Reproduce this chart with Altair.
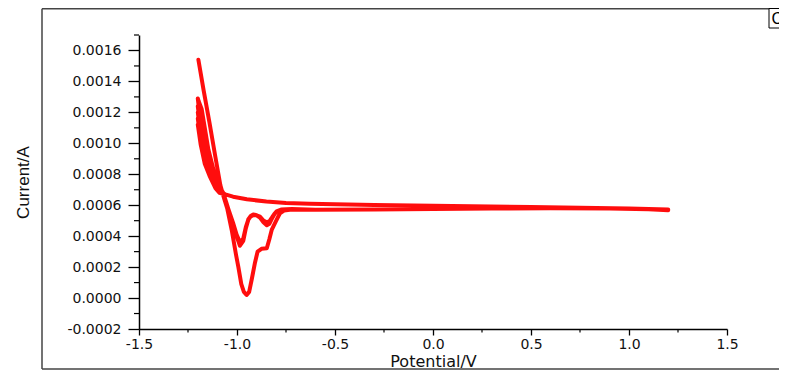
import altair as alt
import pandas as pd

# ---------------- data ----------------
# cycle 1: starts at -1.2 V with a high current, straight drop, large dip
c1_drop_x = [-1.197, -1.17, -1.14, -1.11, -1.085, -1.065, -1.05]
c1_drop_y = [0.00154, 0.00134, 0.00113, 0.00091, 0.00073, 0.00064, 0.00058]
big_dip_x = [-1.027, -1.005, -0.993, -0.978, -0.965, -0.951, -0.938, -0.925,
             -0.908, -0.895, -0.875, -0.848, -0.835, -0.823, -0.80, -0.781, -0.76, -0.72]
big_dip_y = [0.00044, 0.00028, 0.00020, 0.00009, 0.00004, 0.00002, 0.00004, 0.00012,
             0.00023, 0.00030, 0.000318, 0.000322, 0.00038, 0.00044, 0.00050, 0.000548, 0.000565, 0.000572]

# flat sweep towards +1.2 V (lower line)
lower_x = [-0.6, -0.3, 0.0, 0.3, 0.6, 0.9, 1.1, 1.2]
lower_y = [0.00057, 0.000572, 0.000576, 0.000579, 0.00058, 0.000578, 0.000574, 0.000568]

# flat sweep back towards -1.2 V (upper line)
upper_x = [1.2, 1.0, 0.5, 0.0, -0.3, -0.5, -0.63, -0.75, -0.85, -0.95, -1.02, -1.06]
upper_y = [0.000572, 0.000578, 0.000588, 0.000597, 0.000602, 0.000606, 0.000609,
           0.000615, 0.000624, 0.000638, 0.000655, 0.00067]

# rising current near -1.2 V (cycles 2-6)
rise_x = [-1.09, -1.11, -1.14, -1.165, -1.185, -1.2]
rise_y = [
    [0.00069, 0.00073, 0.00084, 0.00096, 0.00112, 0.00129],
    [0.00069, 0.00072, 0.00082, 0.00093, 0.00108, 0.00124],
    [0.00069, 0.00072, 0.00081, 0.00091, 0.00105, 0.00120],
    [0.00068, 0.00071, 0.00080, 0.00089, 0.00102, 0.00116],
    [0.00068, 0.00071, 0.00079, 0.00087, 0.00099, 0.00112],
]
# falling current after the -1.2 V turn (cycles 2-6)
fall_x = [-1.195, -1.18, -1.146, -1.104, -1.07]
fall_y = [
    [0.00127, 0.00122, 0.00096, 0.00075, 0.00068],
    [0.00122, 0.00117, 0.00093, 0.00074, 0.00068],
    [0.00118, 0.00113, 0.00091, 0.00073, 0.00068],
    [0.00114, 0.00110, 0.00089, 0.00072, 0.00067],
    [0.00110, 0.00106, 0.00087, 0.00071, 0.00067],
]
# small double dip (cycles 2-6)
small_dip_x = [-1.044, -1.02, -1.002, -0.985, -0.968, -0.955, -0.942, -0.93, -0.917,
               -0.90, -0.883, -0.865, -0.848, -0.835, -0.823, -0.81, -0.798, -0.775, -0.72]
small_dip_y = [
    [0.000575, 0.00048, 0.00040, 0.000338, 0.00037, 0.00045, 0.00051, 0.00053, 0.00054,
     0.000535, 0.00052, 0.00049, 0.00047, 0.00048, 0.00051, 0.00054, 0.00056, 0.000572, 0.000575],
    [0.000575, 0.00048, 0.00040, 0.000344, 0.000372, 0.00045, 0.000508, 0.00053, 0.000538,
     0.000535, 0.000522, 0.000492, 0.000475, 0.000484, 0.000512, 0.00054, 0.00056, 0.000572, 0.000575],
    [0.000575, 0.000482, 0.000403, 0.00035, 0.000376, 0.000452, 0.000507, 0.000528, 0.000537,
     0.000535, 0.000524, 0.000495, 0.00048, 0.000488, 0.000514, 0.000541, 0.00056, 0.000572, 0.000575],
    [0.000575, 0.000484, 0.000406, 0.000355, 0.00038, 0.000455, 0.000507, 0.000528, 0.000536,
     0.000535, 0.000525, 0.000498, 0.000485, 0.000492, 0.000516, 0.000542, 0.00056, 0.000572, 0.000575],
    [0.000575, 0.000486, 0.00041, 0.00036, 0.000385, 0.000458, 0.000508, 0.000528, 0.000536,
     0.000535, 0.000526, 0.0005, 0.00049, 0.000496, 0.000518, 0.000543, 0.00056, 0.000572, 0.000575],
]

x_major = [-1.5, -1.0, -0.5, 0.0, 0.5, 1.0, 1.5]
x_minor = [-1.25, -0.75, -0.25, 0.25, 0.75, 1.25]
y_major = [-0.0002, 0.0, 0.0002, 0.0004, 0.0006, 0.0008, 0.0010, 0.0012, 0.0014, 0.0016]
y_minor = [-0.0001, 0.0001, 0.0003, 0.0005, 0.0007, 0.0009, 0.0011, 0.0013, 0.0015, 0.0017]

# ---------------- build the continuous trace ----------------
px, py = [], []
def add(xs, ys):
    px.extend(xs)
    py.extend(ys)

add(c1_drop_x, c1_drop_y)
add(big_dip_x, big_dip_y)
add(lower_x, lower_y)
for k in range(5):
    add(upper_x, upper_y)
    add(rise_x, rise_y[k])
    add(fall_x, fall_y[k])
    add(small_dip_x, small_dip_y[k])
    add(lower_x, lower_y)

trace = pd.DataFrame({"potential": px, "current": py, "step": list(range(len(px)))})

W, H = 588, 294
FONT = "DejaVu Sans"

x_scale = alt.Scale(domain=[-1.5, 1.5], nice=False, zero=False)
y_scale = alt.Scale(domain=[-0.0002, 0.0017], nice=False, zero=False)

x_enc = alt.X(
    "potential:Q", scale=x_scale,
    axis=alt.Axis(
        title="Potential/V", values=x_major, grid=False, labelFlush=False, labelOverlap=False,
        labelExpr="replace(format(datum.value, '.1f'), '\u2212', '-')",
        labelFont=FONT, labelFontSize=14, labelColor="#111", labelPadding=2,
        tickSize=6, tickColor="black", tickWidth=1.3,
        domainColor="black", domainWidth=1.5,
        titleFont=FONT, titleFontSize=16, titleFontWeight="normal", titleColor="#111",
        titleBaseline="alphabetic", titleY=37.5, titleX=W / 2, titleAlign="center",
    ),
)
y_enc = alt.Y(
    "current:Q", scale=y_scale,
    axis=alt.Axis(
        title="Current/A", values=y_major, grid=False, labelFlush=False, labelOverlap=False,
        labelExpr="replace(format(datum.value, '.4f'), '\u2212', '-')",
        labelFont=FONT, labelFontSize=14, labelColor="#111", labelPadding=7,
        tickSize=11, tickColor="black", tickWidth=1.3,
        domainColor="black", domainWidth=1.5,
        titleFont="Liberation Sans", titleFontSize=17, titleFontWeight="normal", titleColor="#111",
        titleAngle=270, titleBaseline="alphabetic", titleAlign="center",
        titleX=-111, titleY=H / 2,
    ),
)

line = alt.Chart(trace).mark_line(
    color="#ff0000", strokeWidth=4, strokeCap="round", strokeJoin="round", opacity=0.95
).encode(x=x_enc, y=y_enc, order=alt.Order("step:Q"))

minor_y = alt.Chart(pd.DataFrame({"current": y_minor})).mark_rule(
    color="black", strokeWidth=1.2
).encode(y=y_enc, x=alt.value(-5), x2=alt.value(0))

minor_x = alt.Chart(pd.DataFrame({"potential": x_minor})).mark_rule(
    color="black", strokeWidth=1.2
).encode(x=x_enc, y=alt.value(H), y2=alt.value(H + 3.5))

one = alt.Data(values=[{"k": 1}])
frame_top = alt.Chart(one).mark_rule(color="#444", strokeWidth=1.5).encode(
    x=alt.value(-97), x2=alt.value(630), y=alt.value(-26.2))
frame_left = alt.Chart(one).mark_rule(color="#444", strokeWidth=1.5).encode(
    x=alt.value(-97), y=alt.value(-26.2), y2=alt.value(334))
frame_bottom = alt.Chart(one).mark_rule(color="#444", strokeWidth=1.5).encode(
    x=alt.value(-97), x2=alt.value(645), y=alt.value(334))
legend_box = alt.Chart(one).mark_rect(fill="white", stroke="black", strokeWidth=1).encode(
    x=alt.value(630), x2=alt.value(660), y=alt.value(-26.5), y2=alt.value(-7))
legend_text = alt.Chart(one).mark_text(
    text="C", font=FONT, fontSize=15, align="left", baseline="middle", color="black"
).encode(x=alt.value(632.5), y=alt.value(-16.5))

chart = alt.layer(
    line, minor_y, minor_x, frame_top, frame_left, frame_bottom, legend_box, legend_text
).properties(
    width=W, height=H,
    autosize=alt.AutoSizeParams(type="none"),
    padding={"left": 131, "top": 27, "right": 52, "bottom": 41},
).configure(background="white").configure_view(stroke=None)

chart.save("out.html", embed_options={"renderer": "svg", "actions": False})
